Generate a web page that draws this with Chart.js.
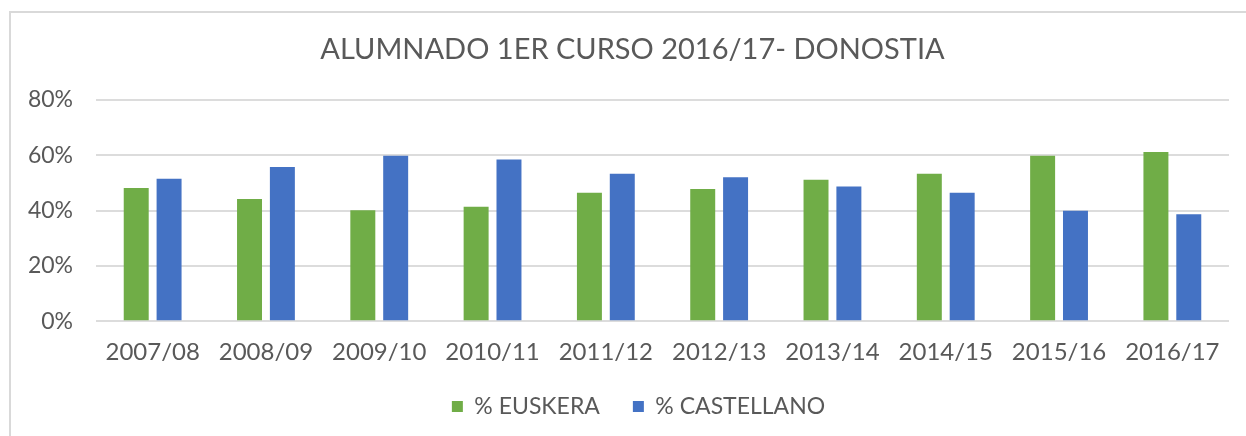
<!DOCTYPE html>
<html>
<head>
<meta charset="utf-8">
<script src="https://cdn.jsdelivr.net/npm/chart.js@4.4.0/dist/chart.umd.min.js"></script>
<style>
  html, body { margin: 0; padding: 0; background: #fff; }
  body { width: 1246px; height: 436px; overflow: hidden; position: relative; }
  #frame { position: absolute; left: 9px; top: 11px; width: 1400px; height: 600px;
           border-left: 2px solid #d9d9d9; border-top: 2px solid #d9d9d9; }
  #wrap { position: absolute; left: 0; top: 0; width: 1246px; height: 436px; }
</style>
</head>
<body>
<div id="frame"></div>
<div id="wrap"><canvas id="myChart"></canvas></div>
<script>
var cursos = ['2007/08','2008/09','2009/10','2010/11','2011/12','2012/13','2013/14','2014/15','2015/16','2016/17'];
var euskera = [48.1, 44.2, 40.1, 41.4, 46.4, 47.8, 51.1, 53.3, 59.8, 61.1];
var castellano = [51.5, 55.7, 59.8, 58.4, 53.3, 52.0, 48.7, 46.4, 39.9, 38.6];
var yTicks = [0, 20, 40, 60, 80];

var gris = '#595959';
var fuente = 'Lato, "Open Sans", sans-serif';

// nudge legend and title a bit to the right, like the original
var mover = {
  id: 'mover',
  afterLayout: function(chart) {
    chart.legend.left += 24;
    chart.legend.right += 24;
    chart.titleBlock.left += 18;
    chart.titleBlock.right += 18;
  }
};

var ctx = document.getElementById('myChart').getContext('2d');
var myChart = new Chart(ctx, {
  type: 'bar',
  data: {
    labels: cursos,
    datasets: [{
      label: '% EUSKERA',
      data: euskera,
      backgroundColor: '#70AD47'
    }, {
      label: '% CASTELLANO',
      data: castellano,
      backgroundColor: '#4472C4'
    }]
  },
  options: {
    responsive: true,
    maintainAspectRatio: false,
    animation: false,
    categoryPercentage: 0.58,
    barPercentage: 0.76,
    layout: { padding: { left: 0, right: 17, top: 0, bottom: 8 } },
    plugins: {
      title: {
        display: true,
        text: 'ALUMNADO 1ER CURSO 2016/17- DONOSTIA',
        color: gris,
        font: { family: fuente, size: 29, weight: 'normal' },
        padding: { top: 32, bottom: 33 }
      },
      legend: {
        position: 'bottom',
        labels: {
          color: gris,
          boxWidth: 11,
          boxHeight: 11,
          padding: 33,
          font: { family: fuente, size: 23 }
        }
      },
      tooltip: { enabled: false }
    },
    scales: {
      x: {
        grid: { display: false, drawTicks: false },
        border: { display: false },
        afterFit: function(scale) { scale.height -= 22; },
        ticks: { color: gris, padding: 17, font: { family: fuente, size: 24 } }
      },
      y: {
        min: 0,
        max: 80,
        afterBuildTicks: function(scale) {
          scale.ticks = yTicks.map(function(v) { return { value: v }; });
        },
        afterFit: function(scale) { scale.width = 96; },
        grid: { color: '#dcdcdc', lineWidth: 2, drawTicks: false },
        border: { display: false },
        ticks: {
          color: gris,
          padding: 23,
          font: { family: fuente, size: 23 },
          callback: function(v) { return v + '%'; }
        }
      }
    }
  },
  plugins: [mover]
});
</script>
</body>
</html>
